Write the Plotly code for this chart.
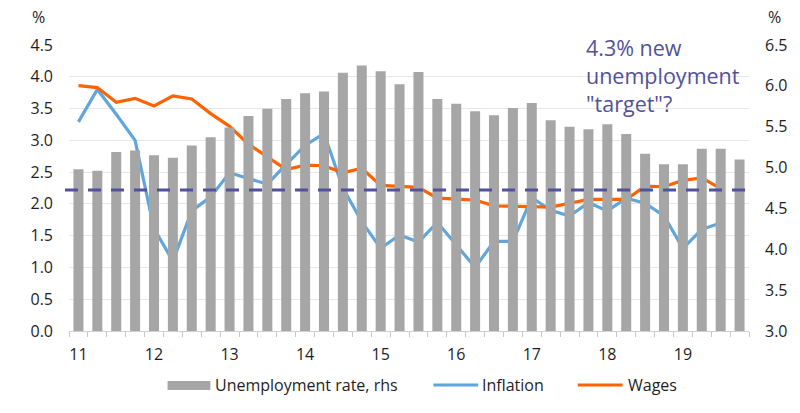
import plotly.graph_objects as go

# Quarterly data, 2011 Q1 - 2019 Q4
years = ['11', '12', '13', '14', '15', '16', '17', '18', '19']
quarters = [f'{y}Q{q}' for y in years for q in range(1, 5)]

# Unemployment rate (rhs, %)
unemployment = [4.98, 4.96, 5.19, 5.21, 5.15, 5.12, 5.27, 5.37, 5.49, 5.63,
                5.72, 5.84, 5.91, 5.93, 6.16, 6.25, 6.18, 6.02, 6.17, 5.84,
                5.78, 5.69, 5.64, 5.73, 5.79, 5.58, 5.50, 5.47, 5.53, 5.41,
                5.17, 5.04, 5.04, 5.23, 5.23, 5.10]

# Inflation (lhs, %)
inflation = [3.29, 3.80, 3.41, 3.00, 1.61, 1.10, 1.89, 2.11, 2.49, 2.40,
             2.31, 2.62, 2.92, 3.11, 2.25, 1.72, 1.30, 1.51, 1.40, 1.71,
             1.35, 1.00, 1.41, 1.41, 2.10, 1.90, 1.81, 2.02, 1.89, 2.09,
             2.01, 1.81, 1.30, 1.60, 1.70]

# Wages (lhs, %)
wages = [3.86, 3.83, 3.60, 3.66, 3.54, 3.70, 3.65, 3.42, 3.22, 2.94,
         2.74, 2.54, 2.61, 2.60, 2.49, 2.56, 2.29, 2.27, 2.26, 2.09,
         2.07, 2.06, 1.97, 1.96, 1.95, 1.95, 2.01, 2.07, 2.07, 2.07,
         2.28, 2.27, 2.37, 2.41, 2.24]

# "target" line, drawn on the lhs scale
target_level = 2.22

GREY = '#A6A6A6'
BLUE = '#60A6DA'
ORANGE = '#FF6200'
INDIGO = '#525199'
FONT = 'Open Sans'
TXT = '#1E1E1E'

xpos = list(range(len(quarters)))

# plot area in pixels (for placing the hand-made legend)
L, R, T, B = 69, 48, 45, 82
W, H = 800, 413
def px(x):
    return (x - L) / (W - L - R)
def py(y):
    return (H - B - y) / (H - T - B)

fig = go.Figure()

fig.add_trace(go.Bar(
    x=xpos, y=unemployment, name='Unemployment rate, rhs',
    marker=dict(color=GREY, line=dict(width=0)),
    yaxis='y2'
))
fig.add_trace(go.Scatter(
    x=xpos[:len(inflation)], y=inflation, name='Inflation',
    mode='lines', line=dict(color=BLUE, width=3.2)
))
fig.add_trace(go.Scatter(
    x=xpos[:len(wages)], y=wages, name='Wages',
    mode='lines', line=dict(color=ORANGE, width=3.2)
))

# dashed target line
fig.add_shape(type='line', xref='paper', yref='y',
              x0=px(65), x1=px(758), y0=target_level, y1=target_level,
              line=dict(color=INDIGO, width=3, dash='13px,10px'))

fig.update_layout(
    width=W, height=H,
    margin=dict(l=L, r=R, t=T, b=B),
    plot_bgcolor='white', paper_bgcolor='white',
    font=dict(family=FONT, size=16, color=TXT),
    showlegend=False,
    bargap=0.47,
    xaxis=dict(
        range=[-0.5, len(quarters) - 0.5],
        tickvals=xpos[::4], ticktext=years,
        ticks='', showgrid=False, zeroline=False,
        showline=True, linecolor='#D0D0D0', linewidth=1,
        ticklabelstandoff=9,
        minor=dict(tick0=-0.5, dtick=1, ticks='outside', ticklen=5,
                   tickcolor='#C8C8C8', showgrid=False)
    ),
    yaxis=dict(
        range=[0, 4.5], dtick=0.5, tickformat='.1f',
        showgrid=True, gridcolor='#E6E6E6', gridwidth=1,
        zeroline=False, ticks='', ticklabelstandoff=15
    ),
    yaxis2=dict(
        range=[3.0, 6.5], dtick=0.5, tickformat='.1f',
        overlaying='y', side='right', showgrid=False,
        zeroline=False, ticks='', ticklabelstandoff=15
    ),
)

# axis unit labels
for xp in (38, 778):
    fig.add_annotation(text='%', xref='paper', yref='paper', x=px(xp), y=py(17),
                       xanchor='center', yanchor='middle',
                       showarrow=False, font=dict(size=16))

# target note
fig.add_annotation(text='4.3% new<br>unemployment<br>"target"?',
                   xref='paper', yref='paper', x=px(586), y=py(31),
                   xanchor='left', yanchor='top', align='left', showarrow=False,
                   font=dict(size=21.5, color=INDIGO))

# hand-made legend to mimic wide swatches
ly = py(385)
fig.add_shape(type='rect', xref='paper', yref='paper',
              x0=px(168), x1=px(211), y0=py(381), y1=py(390),
              fillcolor=GREY, line=dict(width=0))
fig.add_shape(type='line', xref='paper', yref='paper',
              x0=px(435), x1=px(480), y0=ly, y1=ly,
              line=dict(color=BLUE, width=3))
fig.add_shape(type='line', xref='paper', yref='paper',
              x0=px(580), x1=px(625), y0=ly, y1=ly,
              line=dict(color=ORANGE, width=3))
for label, xl in [('Unemployment rate, rhs', 214), ('Inflation', 482), ('Wages', 628)]:
    fig.add_annotation(text=label, xref='paper', yref='paper', x=px(xl), y=ly,
                       xanchor='left', yanchor='middle', showarrow=False,
                       font=dict(size=16))

# the page body has a default margin; remove it so the figure fills the window
fig.write_html('out.html', config={'displayModeBar': False},
               post_script="document.body.style.margin='0';")
